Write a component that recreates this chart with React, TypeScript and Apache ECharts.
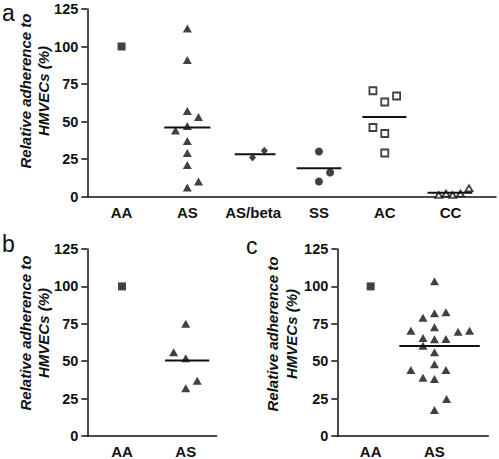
import React, { useEffect, useRef } from "react";
import * as echarts from "echarts";

// ---------- data ----------
const categoriesA = ["AA", "AS", "AS/beta", "SS", "AC", "CC"];
const categoriesBC = ["AA", "AS"];
const yMin = 0;
const yMax = 125;
const yStep = 25;
const yTitleLines = ["Relative adherence to", "HMVECs (%)"];

// panel a
const aAA = [100];
const aAS = [112, 91, 57, 53, 47, 44, 37, 29, 21, 10, 6];
const aASbeta = [26, 30.5];
const aSS = [30, 16, 10];
const aAC = [70.5, 63, 67, 46, 42, 29];
const aCC = [1, 2, 1, 2, 5.5];
const aMeans = [null, 46, 28.2, 18.8, 53, 2.5];

// panel b
const bAA = [100];
const bAS = [75, 56, 52, 37, 32];
const bMeans = [null, 50.5];

// panel c
const cAA = [100];
const cAS = [103.5, 79, 82, 82.7, 70.4, 72.7, 69.7, 70.4, 65.5, 64.6, 64.8, 60.4, 55.9, 44.1, 47.9, 44.1, 39, 38.1, 24.7, 17.4];
const cMeans = [null, 60.2];

// ---------- horizontal jitter of the dot plot (category units) ----------
const aASJitter = [0, 0, 0, 0.17, 0, -0.18, 0, 0, 0, 0.17, 0];
const aASbetaJitter = [-0.01, 0.17];
const aSSJitter = [0, 0.17, 0];
const aACJitter = [-0.18, 0, 0.18, -0.18, 0, 0];
const aCCJitter = [-0.18, -0.07, 0.03, 0.15, 0.28];
const bASJitter = [0, -0.19, 0, 0.18, 0];
const cASJitter = [0, -0.18, 0, 0.18, -0.37, 0, 0.37, 0.55, -0.18, 0, 0.18, -0.18, 0, -0.37, 0, 0.18, -0.18, 0, 0.19, 0];

// extents of mean bars (category units)
const aBarExt = [null, [-0.35, 0.35], [-0.28, 0.34], [-0.34, 0.34], [-0.34, 0.33], [-0.35, 0.33]];
const bBarExt = [null, [-0.325, 0.37]];
const cBarExt = [null, [-0.55, 0.71]];

const FONT = "'Liberation Sans', Arial, Helvetica, sans-serif";
const INK = "#111";

function pts(cat: number, values: number[], jitter?: number[]) {
  return values.map((v, i) => [cat + (jitter ? jitter[i] : 0), v]);
}

function scatter(axis: number, cat: number, values: number[], jitter: number[] | undefined, symbol: string, size: any, open = false) {
  return {
    type: "scatter",
    xAxisIndex: axis,
    yAxisIndex: axis,
    data: pts(cat, values, jitter),
    symbol,
    symbolSize: size,
    silent: true,
    itemStyle: open
      ? { color: "#fff", borderColor: INK, borderWidth: 1.8 }
      : { color: INK, borderWidth: 0 },
    z: 3,
  };
}

function meanBars(axis: number, means: (number | null)[], ext: any[]) {
  const out: any[] = [];
  means.forEach((m, i) => {
    if (m === null || !ext[i]) return;
    out.push({
      type: "line",
      xAxisIndex: axis,
      yAxisIndex: axis,
      data: [
        [i + ext[i][0], m],
        [i + ext[i][1], m],
      ],
      symbol: "none",
      silent: true,
      lineStyle: { color: INK, width: 2 },
      z: 4,
    });
  });
  return out;
}

function xAxis(grid: number, cats: string[], min: number, max: number) {
  return {
    type: "value",
    gridIndex: grid,
    min,
    max,
    axisLine: { show: true, onZero: false, lineStyle: { color: INK, width: 1.5 } },
    axisTick: { show: false },
    splitLine: { show: false },
    axisLabel: {
      customValues: cats.map((_, i) => i),
      formatter: (v: number) => cats[Math.round(v)] ?? "",
      color: INK,
      fontFamily: FONT,
      fontWeight: "bold",
      fontSize: 15,
      margin: 8,
    },
  };
}

function yAxis(grid: number) {
  return {
    type: "value",
    gridIndex: grid,
    min: yMin,
    max: yMax,
    interval: yStep,
    axisLine: { show: true, onZero: false, lineStyle: { color: INK, width: 1.5 } },
    axisTick: { show: true, length: 6, lineStyle: { color: INK, width: 1.5 } },
    splitLine: { show: false },
    axisLabel: {
      color: INK,
      fontFamily: FONT,
      fontWeight: "bold",
      fontSize: 14.5,
      margin: 9,
    },
  };
}

function yTitle(x1: number, x2: number, y: number) {
  return [x1, x2].map((x, i) => ({
    type: "text",
    x,
    y,
    rotation: Math.PI / 2,
    silent: true,
    style: {
      text: yTitleLines[i],
      fill: INK,
      font: `italic bold 15px ${FONT}`,
      align: "center",
      verticalAlign: "middle",
    },
  }));
}

function letter(text: string, x: number, y: number) {
  return {
    type: "text",
    x,
    y,
    silent: true,
    style: {
      text,
      fill: INK,
      font: `23px ${FONT}`,
      align: "left",
      verticalAlign: "middle",
    },
  };
}

export default function App() {
  const ref = useRef<HTMLDivElement>(null);

  useEffect(() => {
    if (!ref.current) return;
    const chart = echarts.init(ref.current, null, { renderer: "svg" });
    const option: any = {
      animation: false,
      backgroundColor: "#fff",
      grid: [
        { left: 87.3, top: 9, width: 408.7, height: 187.5, outerBoundsMode: "none", containLabel: false },
        { left: 87.3, top: 249, width: 129.4, height: 187, outerBoundsMode: "none", containLabel: false },
        { left: 337.3, top: 249, width: 151, height: 187, outerBoundsMode: "none", containLabel: false },
      ],
      xAxis: [
        xAxis(0, categoriesA, -0.52, 5.69),
        xAxis(1, categoriesBC, -0.545, 1.486),
        xAxis(2, categoriesBC, -0.523, 1.844),
      ],
      yAxis: [yAxis(0), yAxis(1), yAxis(2)],
      graphic: [
        ...yTitle(25, 43, 91),
        ...yTitle(25, 43, 333),
        ...yTitle(272, 291, 334),
        letter("a", 2, 12.5),
        letter("b", 2, 244),
        letter("c", 246, 246),
      ],
      series: [
        // panel a
        scatter(0, 0, aAA, undefined, "rect", 8),
        scatter(0, 1, aAS, aASJitter, "triangle", [9, 8]),
        scatter(0, 2, aASbeta, aASbetaJitter, "diamond", [7, 8]),
        scatter(0, 3, aSS, aSSJitter, "circle", 8),
        scatter(0, 4, aAC, aACJitter, "rect", 7, true),
        scatter(0, 5, aCC, aCCJitter, "triangle", [7, 6], true),
        ...meanBars(0, aMeans, aBarExt),
        // panel b
        scatter(1, 0, bAA, undefined, "rect", 8),
        scatter(1, 1, bAS, bASJitter, "triangle", [9, 8]),
        ...meanBars(1, bMeans, bBarExt),
        // panel c
        scatter(2, 0, cAA, undefined, "rect", 8),
        scatter(2, 1, cAS, cASJitter, "triangle", [9, 8]),
        ...meanBars(2, cMeans, cBarExt),
      ],
    };
    chart.setOption(option);
    return () => chart.dispose();
  }, []);

  return (
    <div
      ref={ref}
      style={{ position: "fixed", left: 0, top: 0, width: 499, height: 459, background: "#fff" }}
    />
  );
}
